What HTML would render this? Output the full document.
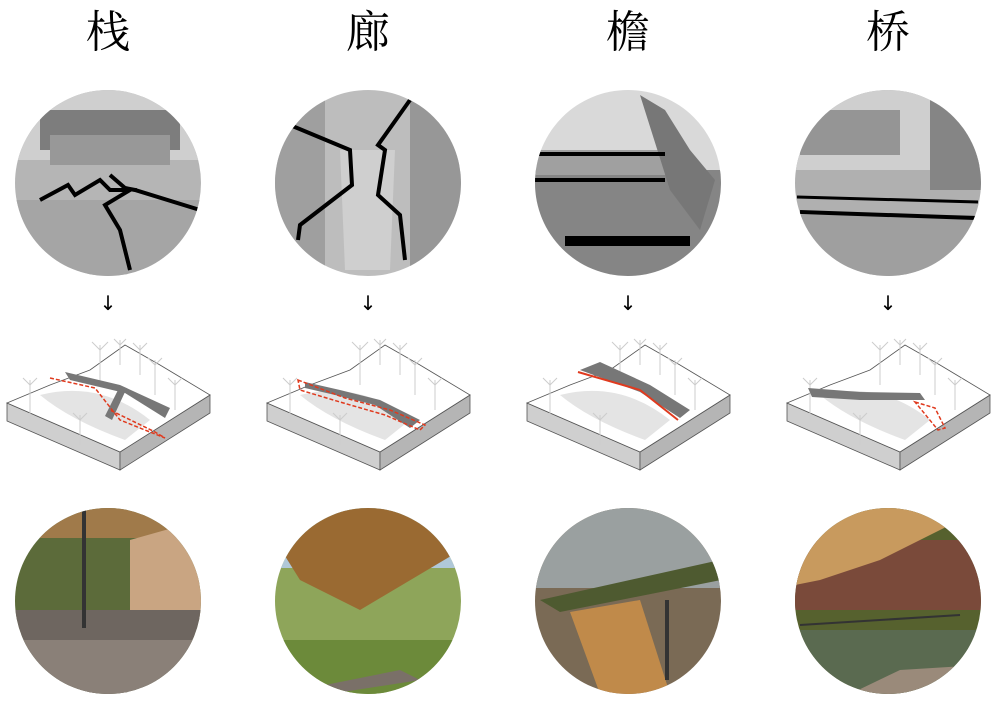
<!DOCTYPE html>
<html><head><meta charset="utf-8"><style>
html,body{margin:0;padding:0;background:#fff;}
svg{display:block}
</style></head><body>
<svg width="1000" height="701" viewBox="0 0 1000 701" xmlns="http://www.w3.org/2000/svg">
<defs>
<clipPath id="c1"><circle cx="108" cy="183" r="93"/></clipPath>
<clipPath id="c2"><circle cx="368" cy="183" r="93"/></clipPath>
<clipPath id="c3"><circle cx="628" cy="183" r="93"/></clipPath>
<clipPath id="c4"><circle cx="888" cy="183" r="93"/></clipPath>
<clipPath id="d1"><circle cx="108" cy="601" r="93"/></clipPath>
<clipPath id="d2"><circle cx="368" cy="601" r="93"/></clipPath>
<clipPath id="d3"><circle cx="628" cy="601" r="93"/></clipPath>
<clipPath id="d4"><circle cx="888" cy="601" r="93"/></clipPath>
<g id="blk">
  <polygon points="7,403 120,452 120,470 7,421" fill="#cfcfcf" stroke="#555" stroke-width="0.8"/>
  <polygon points="120,452 210,395 210,413 120,470" fill="#b5b5b5" stroke="#555" stroke-width="0.8"/>
  <polygon points="7,403 50,385 90,370 125,345 160,365 185,380 210,395 120,452" fill="#fff" stroke="#555" stroke-width="0.8"/>
  <path d="M40,395 Q100,380 150,420 L125,440 Q70,420 40,395Z" fill="#e4e4e4"/>
  <g stroke="#ccc" stroke-width="1" fill="none">
    <path d="M100,345 v40 M100,350 l-8,-8 M100,350 l8,-8"/>
    <path d="M140,345 v30 M140,350 l-7,-7 M140,350 l7,-7"/>
    <path d="M155,360 v35 M155,365 l-7,-7 M155,365 l7,-7"/>
    <path d="M30,380 v40 M30,385 l-7,-7 M30,385 l7,-7"/>
    <path d="M175,380 v30 M175,385 l-7,-7 M175,385 l7,-7"/>
    <path d="M80,415 v30 M80,420 l-7,-7 M80,420 l7,-7"/>
    <path d="M120,340 v25 M120,345 l-6,-6 M120,345 l6,-6"/>
  </g>
</g>
</defs>

<g font-family="'Noto Serif CJK SC','Liberation Serif',serif" font-size="44" text-anchor="middle" fill="#000">
<text x="108" y="47">栈</text><text x="368" y="47">廊</text><text x="628" y="47">檐</text><text x="888" y="47">桥</text>
</g>

<!-- top circles -->
<g clip-path="url(#c1)">
<rect x="15" y="90" width="186" height="186" fill="#b5b5b5"/>
<rect x="15" y="90" width="186" height="70" fill="#cfcfcf"/>
<rect x="40" y="110" width="140" height="40" fill="#7d7d7d"/>
<rect x="50" y="135" width="120" height="30" fill="#989898"/>
<rect x="15" y="200" width="186" height="76" fill="#a5a5a5"/>
<polyline points="40,200 68,185 75,195 100,180 110,190 130,190 105,205 120,230 130,270" fill="none" stroke="#000" stroke-width="4"/>
<polyline points="110,175 125,188 135,190 200,210" fill="none" stroke="#000" stroke-width="4"/>
</g>
<g clip-path="url(#c2)">
<rect x="275" y="90" width="186" height="186" fill="#bdbdbd"/>
<rect x="275" y="90" width="50" height="186" fill="#9f9f9f"/>
<rect x="410" y="90" width="55" height="186" fill="#979797"/>
<polygon points="340,150 395,150 390,270 345,270" fill="#cfcfcf"/>
<polyline points="290,125 350,150 352,185 300,225 298,240" fill="none" stroke="#000" stroke-width="4"/>
<polyline points="410,100 378,145 385,150 378,195 400,215 405,260" fill="none" stroke="#000" stroke-width="4"/>
</g>
<g clip-path="url(#c3)">
<rect x="535" y="90" width="186" height="186" fill="#d9d9d9"/>
<rect x="535" y="170" width="186" height="106" fill="#858585"/>
<rect x="535" y="150" width="130" height="25" fill="#a0a0a0"/>
<polygon points="640,95 665,110 690,150 715,180 700,230 670,190" fill="#777"/>
<rect x="535" y="152" width="130" height="4" fill="#000"/>
<rect x="535" y="178" width="130" height="4" fill="#000"/>
<rect x="565" y="236" width="125" height="10" fill="#000"/>
</g>
<g clip-path="url(#c4)">
<rect x="795" y="90" width="186" height="186" fill="#b0b0b0"/>
<rect x="795" y="90" width="186" height="80" fill="#cfcfcf"/>
<rect x="800" y="110" width="100" height="45" fill="#959595"/>
<rect x="930" y="100" width="55" height="90" fill="#858585"/>
<rect x="795" y="215" width="186" height="61" fill="#9f9f9f"/>
<line x1="797" y1="197" x2="978" y2="202" stroke="#000" stroke-width="3"/>
<line x1="800" y1="212" x2="975" y2="218" stroke="#000" stroke-width="4"/>
</g>

<g font-family="'DejaVu Sans',sans-serif" font-size="20" text-anchor="middle" fill="#000">
<text x="108" y="310">↓</text><text x="368" y="310">↓</text><text x="628" y="310">↓</text><text x="888" y="310">↓</text>
</g>

<!-- diagrams -->
<use href="#blk"/>
<polygon points="65,372 120,385 170,408 165,418 125,393 70,380" fill="#777"/>
<polygon points="118,390 125,392 112,420 105,416" fill="#777"/>
<path d="M50,378 L95,388 L120,420 L165,438 L155,432 L110,410" fill="none" stroke="#e03a1e" stroke-width="1.5" stroke-dasharray="4,2"/>
<use href="#blk" x="260"/>
<polygon points="305,382 340,390 380,400 420,420 410,428 375,405 335,395 305,388" fill="#777"/>
<path d="M298,380 L345,398 L390,410 L425,425 L420,430 L385,415 L340,402 L300,390Z" fill="none" stroke="#e03a1e" stroke-width="1.5" stroke-dasharray="4,2"/>
<use href="#blk" x="520"/>
<polygon points="580,370 600,362 650,385 690,410 680,418 640,392" fill="#777"/>
<path d="M578,372 L640,390 L678,420" fill="none" stroke="#e03a1e" stroke-width="2"/>
<use href="#blk" x="780"/>
<polygon points="808,388 860,392 920,393 925,400 860,400 812,397" fill="#777"/>
<path d="M915,402 L935,408 L945,428 L938,430Z" fill="none" stroke="#e03a1e" stroke-width="1.5" stroke-dasharray="4,2"/>

<!-- bottom circles -->
<g clip-path="url(#d1)">
<rect x="15" y="508" width="186" height="186" fill="#5c6b3a"/>
<rect x="15" y="508" width="186" height="30" fill="#a07a4a"/>
<polygon points="130,540 201,520 201,620 130,610" fill="#c9a582"/>
<rect x="15" y="610" width="186" height="84" fill="#6e6660"/>
<rect x="15" y="640" width="186" height="54" fill="#8a8078"/>
<rect x="82" y="508" width="4" height="120" fill="#333"/>
</g>
<g clip-path="url(#d2)">
<rect x="275" y="508" width="186" height="186" fill="#8ea55a"/>
<rect x="275" y="508" width="186" height="60" fill="#b0c8d8"/>
<polygon points="275,508 461,508 461,550 360,610 300,580 275,540" fill="#9a6a32"/>
<rect x="275" y="640" width="186" height="54" fill="#6c8a3a"/>
<polygon points="300,690 400,670 420,680 330,694" fill="#7a7068"/>
</g>
<g clip-path="url(#d3)">
<rect x="535" y="508" width="186" height="186" fill="#7a6a55"/>
<rect x="535" y="508" width="186" height="80" fill="#9aa0a0"/>
<polygon points="540,600 720,560 721,580 560,612" fill="#4e5a30"/>
<polygon points="570,612 640,600 670,694 600,694" fill="#c08a4a"/>
<rect x="665" y="600" width="4" height="80" fill="#333"/>
</g>
<g clip-path="url(#d4)">
<rect x="795" y="508" width="186" height="186" fill="#56612e"/>
<rect x="795" y="540" width="186" height="70" fill="#7a4a3a"/>
<polygon points="795,508 981,508 950,525 880,560 820,580 795,585" fill="#c89a5e"/>
<rect x="795" y="630" width="186" height="64" fill="#5a6a50"/>
<polygon points="850,694 900,670 981,665 981,694" fill="#9a8a7a"/>
<line x1="800" y1="625" x2="960" y2="615" stroke="#333" stroke-width="2"/>
</g>
</svg>
</body></html>
